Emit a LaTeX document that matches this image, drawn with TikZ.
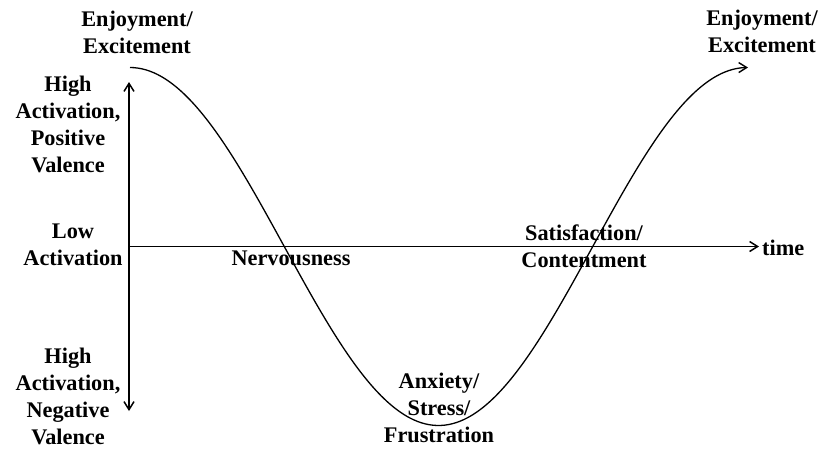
\documentclass[tikz,border=0pt]{standalone}
\usepackage{fontspec}
\setmainfont{Liberation Serif}
\usetikzlibrary{arrows.meta}
\begin{document}
\begin{tikzpicture}[x=1pt,y=-1pt,
  lbl/.style={font=\fontsize{22.3}{27}\selectfont\bfseries, align=center, inner sep=0pt, anchor=base},
  axis/.style={line width=1.8pt, -{Straight Barb[length=8pt,width=10pt,line width=1.5pt]}},
  wave/.style={line width=1.3pt, -{Straight Barb[length=8pt,width=10pt,line width=1.4pt]}}]
\useasboundingbox (0,0) rectangle (820,448);
\coordinate (O) at (129,246.5);
\coordinate (Ytop) at (129,82);
\coordinate (Ybot) at (129,411);
\coordinate (Xend) at (759,246.5);
\draw[axis] (O) -- (Ytop);
\draw[axis] (O) -- (Ybot);
\draw[axis] (O) -- (Xend);
\draw[wave] plot[domain=130:748, samples=160, smooth] (\x, {246.5-179*cos(((\x-130)/308.5)*180)});
\node[lbl] (ee1) at (137,53) {Enjoyment/\\Excitement};
\node[lbl] (hapv) at (68,172) {High\\Activation,\\Positive\\Valence};
\node[lbl] (la) at (73,265) {Low\\Activation};
\node[lbl] (hanv) at (68,444) {High\\Activation,\\Negative\\Valence};
\node[lbl] (nerv) at (291,265) {Nervousness};
\node[lbl] (sat) at (584,267) {Satisfaction/\\Contentment};
\node[lbl,anchor=base west] (time) at (762,255) {time};
\node[lbl] (anx) at (439,442) {Anxiety/\\Stress/\\Frustration};
\node[lbl] (ee2) at (762,52) {Enjoyment/\\Excitement};
\end{tikzpicture}
\end{document}
